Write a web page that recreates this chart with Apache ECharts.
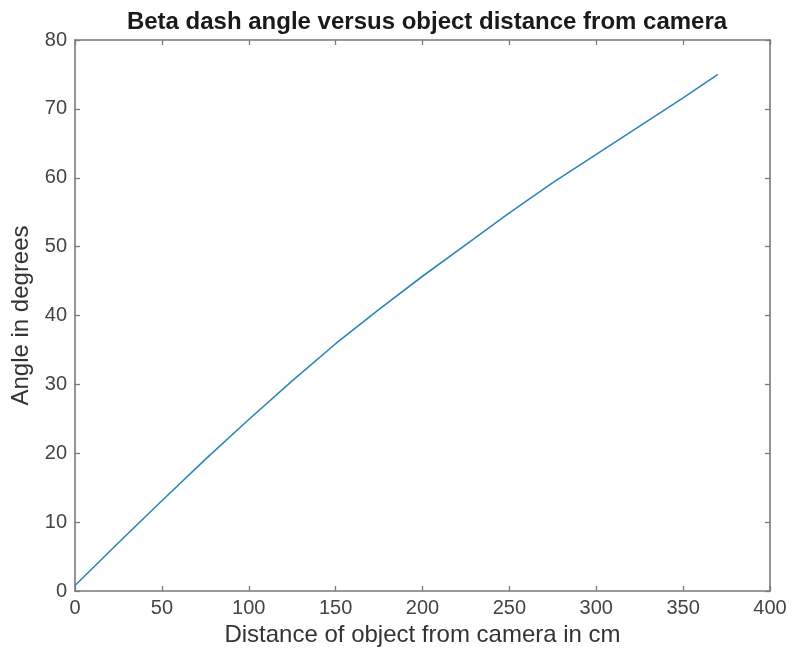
<!DOCTYPE html>
<html>
<head>
<meta charset="utf-8">
<script src="https://cdn.jsdelivr.net/npm/echarts@6/dist/echarts.min.js"></script>
<style>html,body{margin:0;padding:0;background:#fff}#c{width:794px;height:657px}</style>
</head>
<body>
<div id="c"></div>
<script>
const distanceCm = [0, 25, 50, 75, 100, 125, 150, 175, 200, 225, 250, 275, 300, 325, 350, 370];
const angleDeg   = [0.8, 7.0, 13.1, 19.1, 24.9, 30.5, 35.9, 40.9, 45.7, 50.3, 54.9, 59.3, 63.4, 67.5, 71.6, 75.0];
const xTicks = [0, 50, 100, 150, 200, 250, 300, 350, 400];
const yTicks = [0, 10, 20, 30, 40, 50, 60, 70, 80];

const chart = echarts.init(document.getElementById('c'), null, {renderer: 'canvas'});
const axisCol = '#7a7a7a';
const font = 'Liberation Sans, Arial, Helvetica, sans-serif';
const baseAxis = {
  type: 'value',
  axisLine: {show: true, onZero: false, lineStyle: {color: axisCol, width: 1.6}},
  axisTick: {show: true, inside: true, length: 5, lineStyle: {color: axisCol, width: 1.3}},
  splitLine: {show: false}
};
chart.setOption({
  animation: false,
  backgroundColor: '#fff',
  title: {
    text: 'Beta dash angle versus object distance from camera',
    left: 422, top: 5, textAlign: 'center',
    textStyle: {fontFamily: font, fontSize: 24, fontWeight: 'bold', color: '#1a1a1a'}
  },
  grid: {left: 75, right: 24, top: 40, bottom: 66, containLabel: false},
  xAxis: [
    Object.assign({}, baseAxis, {
      position: 'bottom', min: xTicks[0], max: xTicks[xTicks.length - 1], interval: xTicks[1] - xTicks[0],
      name: 'Distance of object from camera in cm', nameLocation: 'middle', nameGap: 29,
      nameTextStyle: {fontFamily: font, fontSize: 24, color: '#333'},
      axisLabel: {show: true, margin: 7, fontFamily: font, fontSize: 20, color: '#444'}
    }),
    Object.assign({}, baseAxis, {
      position: 'top', min: xTicks[0], max: xTicks[xTicks.length - 1], interval: xTicks[1] - xTicks[0],
      axisLabel: {show: false}
    })
  ],
  yAxis: [
    Object.assign({}, baseAxis, {
      position: 'left', min: yTicks[0], max: yTicks[yTicks.length - 1], interval: yTicks[1] - yTicks[0],
      name: 'Angle in degrees', nameLocation: 'middle', nameGap: 41,
      nameTextStyle: {fontFamily: font, fontSize: 24, color: '#333'},
      axisLabel: {show: true, margin: 8, fontFamily: font, fontSize: 20, color: '#444'}
    }),
    Object.assign({}, baseAxis, {
      position: 'right', min: yTicks[0], max: yTicks[yTicks.length - 1], interval: yTicks[1] - yTicks[0],
      axisLabel: {show: false}
    })
  ],
  series: [{
    type: 'line',
    xAxisIndex: 0, yAxisIndex: 0,
    data: distanceCm.map((d, i) => [d, angleDeg[i]]),
    showSymbol: false,
    smooth: false,
    lineStyle: {color: '#2e86b6', width: 1.6}
  }]
});
</script>
</body>
</html>
